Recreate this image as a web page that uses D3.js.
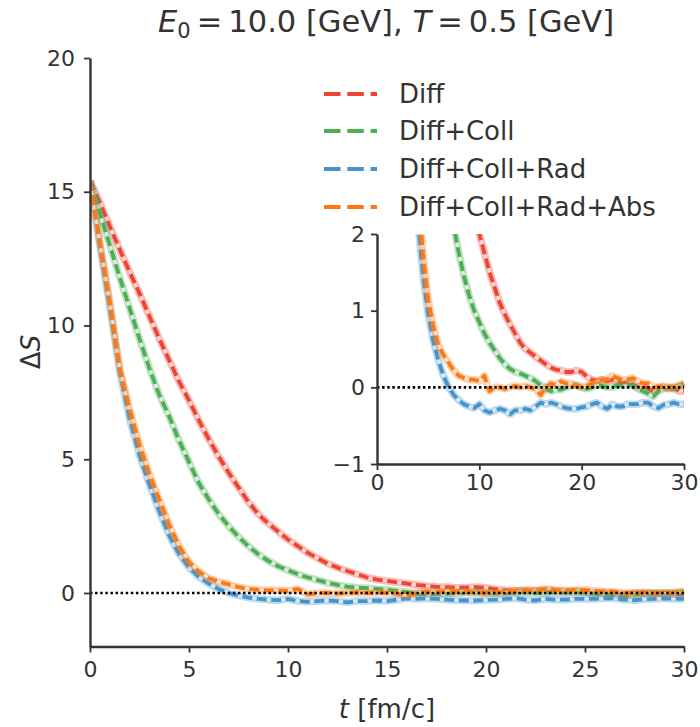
<!DOCTYPE html>
<html><head><meta charset="utf-8">
<script src="https://cdn.jsdelivr.net/npm/d3@7"></script>
<style>body{margin:0;background:#fff;} text{font-family:"DejaVu Sans",sans-serif;fill:#333;}</style>
</head><body>
<svg id="c" width="700" height="727"></svg>
<script>
const times = d3.range(0, 30.01, 0.5);
const seriesNames = ["Diff", "Diff+Coll", "Diff+Coll+Rad", "Diff+Coll+Rad+Abs"];
const seriesColors = ["#ee4433", "#4cae55", "#4594cc", "#fa7a18"];
const diff = [15.4,14.6,13.7,12.85,12.0,11.2,10.35,9.5,8.7,7.9,7.2,6.45,5.75,5.1,4.5,3.95,3.4,2.95,2.6,2.3,2.0,1.75,1.5,1.3,1.1,0.95,0.82,0.7,0.58,0.5,0.45,0.4,0.35,0.3,0.26,0.23,0.22,0.2,0.2,0.22,0.2,0.14,0.1,0.08,0.1,0.08,0.1,0.08,0.05,0.08,0.03,0.0,0.02,-0.02,-0.05,0.0,0.0,-0.02,0.0,-0.05,-0.05];
const diffColl = [15.4,14.2,13.0,11.8,10.65,9.5,8.4,7.4,6.6,5.7,4.9,4.1,3.5,2.95,2.5,2.1,1.75,1.45,1.2,1.0,0.85,0.7,0.58,0.48,0.38,0.3,0.24,0.2,0.18,0.15,0.12,0.08,0.03,-0.02,-0.05,-0.03,-0.03,0.0,0.02,0.03,0.0,-0.02,0.0,0.03,0.02,0.0,0.0,0.03,0.02,0.04,0.02,-0.02,-0.05,-0.08,-0.12,-0.05,-0.02,0.0,-0.02,0.02,0.05];
const diffCollRad = [15.4,13.0,10.7,8.3,6.5,5.15,4.05,3.05,2.15,1.45,0.95,0.6,0.35,0.15,0.0,-0.1,-0.17,-0.22,-0.25,-0.27,-0.22,-0.3,-0.33,-0.3,-0.28,-0.3,-0.35,-0.3,-0.3,-0.28,-0.3,-0.25,-0.2,-0.22,-0.2,-0.22,-0.25,-0.27,-0.28,-0.28,-0.26,-0.25,-0.22,-0.2,-0.25,-0.28,-0.22,-0.25,-0.25,-0.22,-0.22,-0.22,-0.2,-0.2,-0.25,-0.27,-0.23,-0.22,-0.2,-0.22,-0.22];
const diffCollRadAbs = [15.4,13.1,10.9,8.4,6.9,5.55,4.45,3.5,2.55,1.75,1.15,0.8,0.55,0.42,0.32,0.22,0.15,0.12,0.1,0.1,0.08,0.15,-0.05,0.0,0.0,-0.02,0.0,0.02,0.0,0.02,0.0,-0.02,-0.1,0.0,0.05,0.03,0.08,0.05,0.05,0.02,0.0,0.02,0.05,0.08,0.1,0.1,0.15,0.12,0.1,0.1,0.12,0.08,0.05,0.05,0.0,0.0,0.02,0.0,0.0,0.02,0.05];
const seriesValues = [diff, diffColl, diffCollRad, diffCollRadAbs];
const mainXTicks = [0,5,10,15,20,25,30];
const mainYTicks = [0,5,10,15,20];
const insetXTicks = [0,10,20,30];
const insetYTicks = [-1,0,1,2];

const svg = d3.select("#c");
const axisColor = "#333";

const x = d3.scaleLinear().domain([0,30]).range([90,684]);
const y = d3.scaleLinear().domain([-2,20]).range([646.5,58]);
const xi = d3.scaleLinear().domain([0,30]).range([377,684]);
const yi = d3.scaleLinear().domain([-1,2]).range([464,234]);

const defs = svg.append("defs");
defs.append("clipPath").attr("id","clipMain").append("rect").attr("x",90).attr("y",58).attr("width",600).attr("height",588.5);
defs.append("clipPath").attr("id","clipInset").append("rect").attr("x",377).attr("y",234).attr("width",313).attr("height",230);

function drawSeries(g, xs, ys, clipId, dash) {
  const line = d3.line().x((d,i)=>xs(times[i])).y(d=>ys(d));
  const gg = g.append("g").attr("clip-path", `url(#${clipId})`);
  seriesValues.forEach((vals, k) => {
    const col = seriesColors[k];
    gg.append("path").attr("d", line(vals)).attr("fill","none").attr("stroke",col)
      .attr("stroke-width",7.5).attr("stroke-opacity",0.35).attr("stroke-linejoin","round");
    gg.append("path").attr("d", line(vals)).attr("fill","none").attr("stroke","#fff")
      .attr("stroke-width",2.4).attr("stroke-opacity",0.45).attr("stroke-linejoin","round");
    gg.append("path").attr("d", line(vals)).attr("fill","none").attr("stroke",col)
      .attr("stroke-width",3.8).attr("stroke-dasharray",dash).attr("stroke-linejoin","round");
  });
}
function zeroLine(g, xs, ys) {
  g.append("line").attr("x1",xs(0)).attr("x2",xs(30)).attr("y1",ys(0)).attr("y2",ys(0))
   .attr("stroke","#000").attr("stroke-width",2.6).attr("stroke-dasharray","2.5,2.6");
}
function styleAxis(sel) {
  sel.select(".domain").attr("stroke",axisColor).attr("stroke-width",2.4);
  sel.selectAll(".tick line").attr("stroke",axisColor).attr("stroke-width",1.8);
  sel.selectAll(".tick text").style("font-family","DejaVu Sans").style("font-size","22px").attr("fill","#333");
}

const gm = svg.append("g");
drawSeries(gm, x, y, "clipMain", "10,4.5");
zeroLine(gm, x, y);
const xAx = gm.append("g").attr("transform","translate(0,646.5)")
  .call(d3.axisBottom(x).tickValues(mainXTicks).tickSize(6).tickPadding(9).tickSizeOuter(0));
styleAxis(xAx);
const yAx = gm.append("g").attr("transform","translate(90,0)")
  .call(d3.axisLeft(y).tickValues(mainYTicks).tickSize(6).tickPadding(9).tickSizeOuter(0));
styleAxis(yAx);

const gi = svg.append("g");
drawSeries(gi, xi, yi, "clipInset", "10,4.5");
zeroLine(gi, xi, yi);
const xAxI = gi.append("g").attr("transform","translate(0,464)")
  .call(d3.axisBottom(xi).tickValues(insetXTicks).tickSize(6).tickPadding(4).tickSizeOuter(0));
styleAxis(xAxI);
const yAxI = gi.append("g").attr("transform","translate(377,0)")
  .call(d3.axisLeft(yi).tickValues(insetYTicks).tickSize(6).tickPadding(6).tickSizeOuter(0).tickFormat(d=>d<0?"\u2212"+Math.abs(d):d));
styleAxis(yAxI);

const title = svg.append("text").attr("x",386).attr("y",32).attr("text-anchor","middle").style("font-size","30.5px");
title.append("tspan").attr("font-style","italic").text("E");
title.append("tspan").attr("dy",6).style("font-size","21px").text("0");
title.append("tspan").attr("dy",-6).text("\u2009=\u200910.0 [GeV], ");
title.append("tspan").attr("font-style","italic").text("T");
title.append("tspan").text("\u2009=\u20090.5 [GeV]");

const xl = svg.append("text").attr("x",387).attr("y",718).attr("text-anchor","middle").style("font-size","26px");
xl.append("tspan").attr("font-style","italic").text("t");
xl.append("tspan").text(" [fm/c]");
const yl = svg.append("text").attr("transform","translate(40,352) rotate(-90)").attr("text-anchor","middle").style("font-size","26px");
yl.append("tspan").text("\u0394");
yl.append("tspan").attr("font-style","italic").text("S");

const legRows = [94,131,169,207];
seriesNames.forEach((name,k)=>{
  const g = svg.append("g");
  g.append("line").attr("x1",324).attr("x2",377).attr("y1",legRows[k]).attr("y2",legRows[k])
    .attr("stroke",seriesColors[k]).attr("stroke-width",3.8).attr("stroke-dasharray","16.5,6.8");
  g.append("text").attr("x",399).attr("y",legRows[k]).attr("dy","0.35em").style("font-size","26px").text(name);
});
</script>
</body></html>
